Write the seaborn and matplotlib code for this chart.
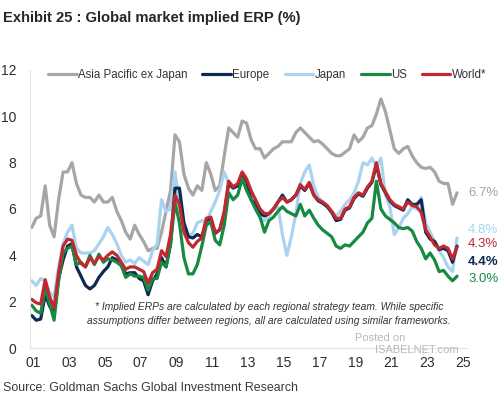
import matplotlib
matplotlib.use('Agg')
import matplotlib.pyplot as plt
import seaborn as sns
import pandas as pd

# quarterly readings, Dec 2000 .. Sep 2024
dates = pd.date_range('2000-12-01', '2024-09-01', freq='3MS')

asia_pac = [5.2, 5.6, 5.7, 7.0, 5.3, 4.8, 6.4, 7.6, 7.6, 8.0, 7.1, 6.6, 6.5, 6.5, 6.3, 6.6,
            6.3, 6.3, 6.5, 5.9, 5.5, 5.0, 4.7, 5.3, 4.9, 4.6, 4.2, 4.3, 4.3, 5.0, 5.9, 6.8,
            9.2, 8.9, 7.5, 6.9, 6.6, 7.0, 6.8, 8.0, 7.5, 6.8, 7.0, 8.3, 9.5, 9.3, 9.1, 9.8,
            9.7, 9.0, 8.6, 8.6, 8.2, 8.4, 8.6, 8.7, 8.9, 8.9, 8.9, 9.3, 9.5, 9.3, 9.1, 8.9,
            8.95, 8.8, 8.6, 8.4, 8.3, 8.3, 8.45, 8.6, 9.2, 8.9, 9.1, 9.5, 9.6, 10.1, 10.75, 10.2,
            9.4, 8.6, 8.4, 8.6, 8.7, 8.3, 8.0, 7.8, 7.75, 7.8, 7.6, 7.2, 7.1, 7.1, 6.2, 6.7]

europe = [1.4, 1.2, 1.25, 2.3, 1.8, 1.5, 3.0, 3.8, 4.4, 4.5, 3.5, 3.1, 2.7, 2.55, 2.7, 3.05,
          3.3, 3.5, 3.9, 3.8, 3.6, 3.2, 3.25, 3.25, 3.0, 2.9, 2.3, 2.9, 3.2, 3.9, 3.5, 4.5,
          6.9, 6.9, 5.4, 4.8, 4.75, 4.9, 4.8, 5.5, 5.6, 4.95, 5.1, 5.8, 7.1, 6.9, 7.0, 7.55,
          7.2, 6.4, 6.2, 5.8, 5.7, 5.8, 6.0, 6.3, 6.6, 6.3, 6.4, 6.6, 7.0, 6.8, 7.1, 6.6,
          6.35, 6.25, 6.1, 5.85, 5.5, 5.55, 5.95, 6.05, 6.45, 6.65, 6.55, 6.9, 7.15, 7.9, 7.05, 6.7,
          6.35, 6.15, 6.05, 5.95, 6.4, 6.2, 6.2, 6.4, 5.0, 4.7, 4.6, 4.25, 4.3, 4.2, 3.7, 4.4]

japan = [2.9, 2.7, 3.0, 2.9, 2.4, 2.2, 3.5, 4.5, 5.0, 5.3, 4.3, 4.1, 4.1, 4.1, 4.2, 4.5,
         4.8, 5.2, 4.9, 4.5, 4.0, 3.7, 3.8, 3.65, 3.9, 3.75, 3.6, 4.2, 4.5, 6.4, 5.9, 6.0,
         7.6, 6.1, 5.4, 4.85, 4.95, 5.4, 5.5, 5.4, 5.9, 6.3, 6.8, 7.6, 7.1, 7.0, 7.0, 7.5,
         7.2, 6.6, 6.0, 5.6, 5.5, 5.7, 6.0, 6.1, 4.9, 4.0, 4.8, 5.8, 7.1, 7.6, 7.9, 7.0,
         6.5, 6.3, 6.1, 5.9, 5.7, 5.9, 6.2, 6.4, 6.7, 7.2, 8.0, 7.9, 8.2, 7.8, 8.2, 6.6,
         6.1, 4.9, 5.2, 5.6, 5.8, 6.1, 6.0, 6.5, 5.4, 5.0, 4.6, 4.2, 3.9, 3.5, 3.3, 4.75]

us = [1.85, 1.6, 1.5, 2.6, 1.9, 1.2, 2.9, 4.1, 4.3, 4.4, 3.6, 3.7, 3.5, 4.0, 3.6, 4.05,
      3.7, 3.85, 3.8, 3.7, 3.55, 3.05, 3.2, 3.1, 3.1, 3.05, 2.5, 3.0, 3.0, 3.7, 3.5, 4.5,
      6.3, 5.4, 3.9, 3.2, 3.2, 3.6, 4.4, 5.3, 5.45, 4.65, 4.45, 5.3, 6.7, 6.4, 6.6, 7.3,
      6.8, 6.4, 6.0, 5.65, 5.0, 5.5, 5.65, 5.9, 6.1, 5.9, 5.8, 5.7, 6.2, 5.7, 5.95, 5.6,
      5.3, 5.1, 4.95, 4.8, 4.4, 4.3, 4.45, 4.4, 4.6, 4.8, 5.0, 5.4, 5.6, 7.2, 6.0, 5.7,
      5.55, 5.4, 5.2, 5.15, 5.2, 5.05, 4.6, 4.3, 3.85, 4.1, 3.8, 3.3, 3.35, 3.1, 2.9, 3.1]

world = [2.1, 1.95, 1.9, 2.95, 2.2, 1.75, 3.25, 4.4, 4.7, 4.65, 4.0, 3.65, 3.5, 3.9, 3.65, 3.95,
         3.8, 4.0, 4.15, 4.0, 3.7, 3.4, 3.5, 3.5, 3.4, 3.3, 2.8, 3.25, 3.4, 4.2, 3.95, 4.9,
         6.6, 6.2, 5.0, 4.55, 4.35, 4.6, 4.75, 5.6, 5.65, 5.0, 5.1, 5.9, 7.2, 6.95, 7.1, 7.6,
         7.3, 6.8, 6.4, 6.0, 5.8, 5.8, 6.0, 6.3, 6.5, 6.3, 6.4, 6.6, 7.05, 6.85, 7.15, 6.6,
         6.4, 6.3, 6.15, 5.9, 5.6, 5.6, 6.0, 6.1, 6.5, 6.7, 6.6, 6.95, 7.2, 8.0, 7.1, 6.75,
         6.4, 6.2, 6.1, 6.0, 6.3, 6.15, 6.1, 5.85, 5.1, 4.8, 4.45, 4.3, 4.4, 4.3, 3.85, 4.35]

series_names = ['Asia Pacific ex Japan', 'Europe', 'Japan', 'US', 'World*']
series_colors = ['#A6A6A6', '#0E2A52', '#A9D3F0', '#168A41', '#C1282F']
end_labels = ['6.7%', '4.4%', '4.8%', '3.0%', '4.3%']
label_y = [6.7, 3.7, 5.1, 3.0, 4.5]
x_ticks = list(range(2001, 2026, 2))

df = pd.DataFrame({'date': dates, 'Asia Pacific ex Japan': asia_pac, 'Europe': europe,
                   'Japan': japan, 'US': us, 'World*': world})
long = df.melt(id_vars='date', var_name='series', value_name='erp')

sns.set_style('white')
plt.rcParams['font.family'] = ['Liberation Sans', 'DejaVu Sans']

fig = plt.figure(figsize=(5.0, 3.99), dpi=100)
ax = fig.add_axes([0.0606, 0.1278, 0.8726, 0.6968])

# draw order: gray, light blue, navy, green, red on top
order = ['Asia Pacific ex Japan', 'Japan', 'Europe', 'US', 'World*']
pal = dict(zip(series_names, series_colors))
for name in order:
    sns.lineplot(data=long[long.series == name], x='date', y='erp', color=pal[name],
                 linewidth=2.3, ax=ax, label=name)

ax.set_ylim(0, 12)
ax.set_yticks(range(0, 13, 2))
ax.set_xlim(pd.Timestamp('2000-11-01'), pd.Timestamp('2025-03-15'))
ax.set_xticks([pd.Timestamp(f'{y}-01-01') for y in x_ticks])
ax.set_xticklabels([f'{y % 100:02d}' for y in x_ticks])
ax.set_xlabel('')
ax.set_ylabel('')
ax.tick_params(axis='both', length=0, labelsize=10, colors='#2E2E2E')
ax.tick_params(axis='x', pad=6)
ax.tick_params(axis='y', pad=10)
for s in ['top', 'right']:
    ax.spines[s].set_visible(False)
for s in ['left', 'bottom']:
    ax.spines[s].set_color('#E3E3E3')
    ax.spines[s].set_linewidth(0.8)

handles, labels = ax.get_legend_handles_labels()
hmap = dict(zip(labels, handles))
ax.legend([hmap[n] for n in series_names], series_names, ncol=5, frameon=False,
          loc='center', bbox_to_anchor=(0.534, 0.812), bbox_transform=fig.transFigure,
          fontsize=8.3, handlelength=2.5, handletextpad=0.1, columnspacing=1.3,
          labelcolor='#333333')

for name, txt, yv, col in zip(series_names, end_labels, label_y, series_colors):
    ax.text(pd.Timestamp('2025-04-15'), yv, txt, color=col, fontsize=9.5, va='center',
            ha='left', fontweight='bold' if name == 'Europe' else 'normal', clip_on=False)

fig.text(0.538, 1 - 307 / 399, '* Implied ERPs are calculated by each regional strategy team. While specific',
         ha='center', va='center', fontsize=7.4, style='italic', color='#333333')
fig.text(0.538, 1 - 321 / 399, 'assumptions differ between regions, all are calculated using similar frameworks.',
         ha='center', va='center', fontsize=7.4, style='italic', color='#333333')

fig.text(0.71, 1 - 338 / 399, 'Posted on', fontsize=8, color='#B8B8B8', va='center')
fig.text(0.75, 1 - 350 / 399, 'ISABELNET.com', fontsize=8, color='#B8B8B8', va='center')

fig.text(0.006, 1 - 18 / 399, 'Exhibit 25 : Global market implied ERP (%)', fontsize=10.6,
         fontweight='bold', color='#262626', va='center', ha='left')
fig.text(0.006, 1 - 388 / 399, 'Source: Goldman Sachs Global Investment Research', fontsize=8.9,
         color='#3A3A3A', va='center', ha='left')

fig.savefig('out.png', dpi=100)
